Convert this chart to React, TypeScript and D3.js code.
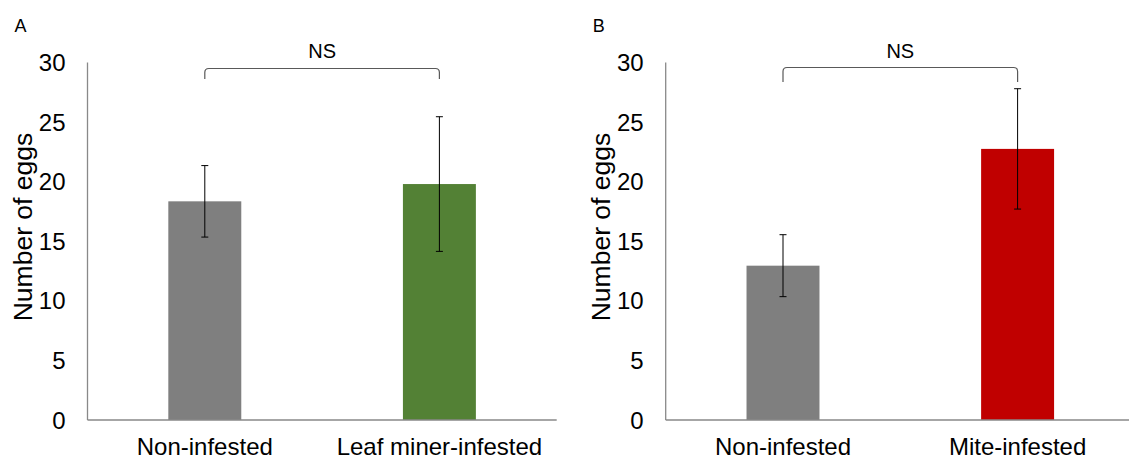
import React from "react";
import * as d3 from "d3";

const panelLabels = ["A", "B"];
const categoriesA = ["Non-infested", "Leaf miner-infested"];
const categoriesB = ["Non-infested", "Mite-infested"];
const meansA = [18.35, 19.8];
const errorsA = [3.0, 5.65];
const meansB = [12.95, 22.75];
const errorsB = [2.6, 5.05];
const colorsA = ["#7f7f7f", "#538135"];
const colorsB = ["#7f7f7f", "#c00000"];
const yTicks = [0, 5, 10, 15, 20, 25, 30];
const sigLabel = "NS";
const yTitle = "Number of eggs";

const W = 1129;
const H = 459;
const FONT = "Liberation Sans, Arial, sans-serif";

function Panel({ x0, label, cats, means, errs, colors, bracketTop, bracketDrop }) {
  const axisW = 469.2;
  const y = d3.scaleLinear().domain([0, 30]).range([420, 62.5]);
  const x = d3.scaleBand().domain(cats).range([x0, x0 + axisW]).paddingInner(0.689).paddingOuter(0.3445);
  const bw = x.bandwidth();
  const cx = (c) => (x(c) as number) + bw / 2;
  const bx1 = cx(cats[0]);
  const bx2 = cx(cats[1]);
  const r = 4;
  return (
    <g>
      <text x={x0 - 73} y={32} fontSize={18} fontFamily={FONT} fill="#000">{label}</text>
      {cats.map((c, i) => (
        <rect key={c} x={x(c)} y={y(means[i])} width={bw} height={420 - y(means[i])} fill={colors[i]} />
      ))}
      {cats.map((c, i) => {
        const xc = cx(c);
        const t = y(means[i] + errs[i]);
        const b = y(means[i] - errs[i]);
        return (
          <g key={c + "e"} stroke="#000" strokeWidth={1}>
            <line x1={xc} x2={xc} y1={t} y2={b} />
            <line x1={xc - 3.5} x2={xc + 3.5} y1={t} y2={t} />
            <line x1={xc - 3.5} x2={xc + 3.5} y1={b} y2={b} />
          </g>
        );
      })}
      <line x1={x0} x2={x0} y1={y(30)} y2={420} stroke="#898989" strokeWidth={1.3} />
      <line x1={x0} x2={x0 + axisW} y1={420} y2={420} stroke="#898989" strokeWidth={1.3} />
      {yTicks.map((t) => (
        <text key={t} x={x0 - 22} y={y(t) + 8.5} fontSize={24} textAnchor="end" fontFamily={FONT} fill="#000">{t}</text>
      ))}
      {cats.map((c) => (
        <text key={c + "l"} x={cx(c)} y={455} fontSize={24} textAnchor="middle" fontFamily={FONT} fill="#000">{c}</text>
      ))}
      <text transform={`translate(${x0 - 56},227) rotate(-90)`} fontSize={26.5} textAnchor="middle" fontFamily={FONT} fill="#000">{yTitle}</text>
      <path
        d={`M${bx1},${bracketTop + bracketDrop} L${bx1},${bracketTop + r} Q${bx1},${bracketTop} ${bx1 + r},${bracketTop} L${bx2 - r},${bracketTop} Q${bx2},${bracketTop} ${bx2},${bracketTop + r} L${bx2},${bracketTop + bracketDrop}`}
        fill="none"
        stroke="#595959"
        strokeWidth={1.2}
      />
      <text x={(bx1 + bx2) / 2} y={58} fontSize={20} textAnchor="middle" fontFamily={FONT} fill="#000">{sigLabel}</text>
    </g>
  );
}

export default function App() {
  return (
    <svg width={W} height={H} style={{ position: "absolute", left: 0, top: 0, background: "#fff" }}>
      <rect width={W} height={H} fill="#fff" />
      <Panel x0={87.5} label={panelLabels[0]} cats={categoriesA} means={meansA} errs={errorsA} colors={colorsA} bracketTop={68.5} bracketDrop={10.5} />
      <Panel x0={665.7} label={panelLabels[1]} cats={categoriesB} means={meansB} errs={errorsB} colors={colorsB} bracketTop={67.5} bracketDrop={14.5} />
    </svg>
  );
}
